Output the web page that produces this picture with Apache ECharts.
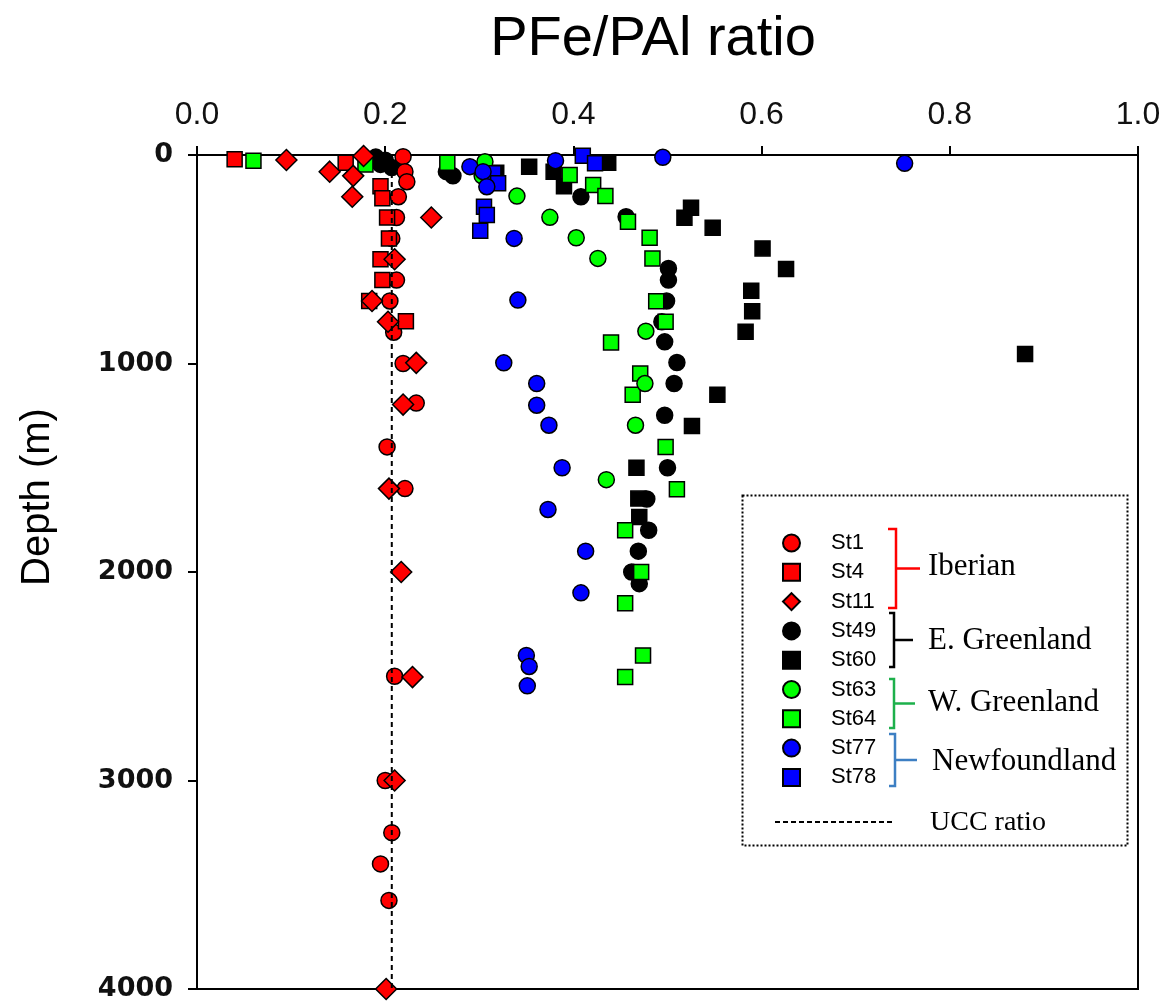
<!DOCTYPE html>
<html>
<head>
<meta charset="utf-8">
<script src="https://cdn.jsdelivr.net/npm/echarts@6/dist/echarts.min.js"></script>
<style>html,body{margin:0;padding:0;background:#fff}#c{width:1174px;height:1007px}</style>
</head>
<body>
<div id="c"></div>
<script>
// ---- data: [PFe/PAl ratio, depth (m)] ----
const st1 = [[0.219,8],[0.221,80],[0.223,128],[0.214,200],[0.212,300],[0.207,400],[0.212,600],[0.205,700],[0.209,850],[0.219,1000],[0.233,1190],[0.202,1400],[0.221,1600],[0.210,2500],[0.200,3000],[0.207,3250],[0.195,3400],[0.204,3575]];
const st4 = [[0.040,20],[0.158,37],[0.195,150],[0.197,208],[0.202,300],[0.204,400],[0.195,500],[0.197,600],[0.183,700],[0.222,797]];
const st11 = [[0.095,24],[0.177,5],[0.141,80],[0.166,100],[0.165,200],[0.249,300],[0.210,500],[0.186,700],[0.203,800],[0.233,997],[0.219,1197],[0.204,1600],[0.217,2000],[0.229,2504],[0.210,3000],[0.201,4000]];
const st49 = [[0.190,10],[0.200,25],[0.195,45],[0.207,60],[0.265,80],[0.272,100],[0.408,200],[0.456,296],[0.501,544],[0.501,600],[0.499,700],[0.494,800],[0.497,896],[0.510,995],[0.507,1096],[0.497,1248],[0.500,1500],[0.478,1650],[0.480,1800],[0.469,1900],[0.462,2000],[0.470,2056]];
const st60 = [[0.318,85],[0.353,56],[0.379,80],[0.437,37],[0.390,150],[0.525,253],[0.518,301],[0.548,349],[0.601,448],[0.626,547],[0.589,651],[0.590,749],[0.583,848],[0.880,955],[0.553,1150],[0.526,1300],[0.467,1500],[0.469,1648],[0.470,1736]];
const st63 = [[0.306,32],[0.303,100],[0.340,197],[0.375,299],[0.403,397],[0.426,496],[0.477,845],[0.476,1096],[0.466,1296],[0.435,1557]];
const st64 = [[0.060,27],[0.179,45],[0.266,37],[0.396,96],[0.421,144],[0.434,197],[0.458,320],[0.481,397],[0.484,496],[0.488,701],[0.498,800],[0.440,899],[0.471,1048],[0.463,1150],[0.498,1400],[0.510,1603],[0.455,1800],[0.472,2000],[0.455,2150],[0.474,2400],[0.455,2504]];
const st77 = [[0.290,56],[0.304,80],[0.308,152],[0.381,27],[0.495,11],[0.752,40],[0.337,400],[0.341,696],[0.326,997],[0.361,1096],[0.361,1200],[0.374,1296],[0.388,1500],[0.373,1700],[0.413,1900],[0.408,2100],[0.350,2400],[0.353,2453],[0.351,2546]];
const st78 = [[0.315,88],[0.320,136],[0.410,3],[0.423,40],[0.305,248],[0.308,288],[0.301,363]];
const uccRatio = 0.207;
const uccDepths = [0, 4000];
const xTicks = [0, 0.2, 0.4, 0.6, 0.8, 1.0];
const yTicks = [0, 1000, 2000, 3000, 4000];

const chart = echarts.init(document.getElementById('c'), null, {renderer: 'canvas'});

function sc(name, data, symbol, size, color) {
  return {
    name: name, type: 'scatter', data: data, symbol: symbol, symbolSize: size,
    itemStyle: {color: color, borderColor: '#000', borderWidth: 1.5, opacity: 1},
    emphasis: {disabled: true}, silent: true
  };
}

const sans = 'Liberation Sans';

function bracket(x, y1, y2, xm, hookX, color) {
  const ym = (y1 + y2) / 2;
  return [
    {type: 'polyline', shape: {points: [[hookX, y1], [x, y1], [x, y2], [hookX, y2]]}, style: {stroke: color, lineWidth: 2.5, fill: null}},
    {type: 'line', shape: {x1: x, y1: ym, x2: xm, y2: ym}, style: {stroke: color, lineWidth: 2.5}}
  ];
}

const option = {
  animation: false,
  backgroundColor: '#fff',
  grid: {left: 197, top: 155, right: 36, bottom: 18, show: true, borderColor: '#000', borderWidth: 2, backgroundColor: 'transparent'},
  xAxis: {
    type: 'value', position: 'top', min: xTicks[0], max: xTicks[xTicks.length - 1], interval: 0.2,
    axisLine: {show: true, lineStyle: {color: '#000', width: 2}},
    axisTick: {show: true, inside: false, length: 9, lineStyle: {color: '#000', width: 2}},
    axisLabel: {margin: 24, fontFamily: sans, fontSize: 32, color: '#111', formatter: v => v.toFixed(1)},
    splitLine: {show: false}
  },
  yAxis: {
    type: 'value', inverse: true, min: yTicks[0], max: yTicks[yTicks.length - 1], interval: 1000,
    axisLine: {show: true, lineStyle: {color: '#000', width: 2}},
    axisTick: {show: true, inside: false, length: 9, lineStyle: {color: '#000', width: 2}},
    axisLabel: {margin: 24, fontFamily: 'DejaVu Sans', fontWeight: 'bold', fontSize: 27, color: '#111', formatter: v => String(v)},
    splitLine: {show: false}
  },
  legend: {
    orient: 'vertical', left: 777, top: 527, itemWidth: 17, itemHeight: 17, itemGap: 7.3,
    selectedMode: false,
    textStyle: {fontFamily: sans, fontSize: 22, color: '#000', padding: [0, 0, 0, 26]},
    data: ['St1', 'St4', 'St11', 'St49', 'St60', 'St63', 'St64', 'St77', 'St78']
  },
  series: [
    sc('St60', st60, 'rect', 15, '#000000'),
    sc('St49', st49, 'circle', 16, '#000000'),
    sc('St64', st64, 'rect', 15, '#00ff00'),
    sc('St63', st63, 'circle', 16, '#00ff00'),
    sc('St78', st78, 'rect', 15, '#0000ff'),
    sc('St77', st77, 'circle', 16, '#0000ff'),
    sc('St1', st1, 'circle', 16, '#ff0000'),
    sc('St4', st4, 'rect', 15, '#ff0000'),
    sc('St11', st11, 'diamond', 21, '#ff0000'),
    {
      name: 'UCC ratio', type: 'line', data: uccDepths.map(d => [uccRatio, d]),
      symbol: 'none', silent: true, z: 5,
      lineStyle: {color: '#000', width: 2, type: [5, 4]}
    }
  ],
  graphic: [
    {type: 'text', style: {text: 'PFe/PAl ratio', x: 653, y: 40, align: 'center', verticalAlign: 'middle', font: '56px "Liberation Sans"', fill: '#000'}},
    {type: 'text', x: 38, y: 497, rotation: Math.PI / 2, style: {text: 'Depth (m)', x: 0, y: 0, align: 'center', verticalAlign: 'middle', font: '40px "Liberation Sans"', fill: '#000'}},
    {type: 'rect', shape: {x: 742.5, y: 495.5, width: 385, height: 350}, style: {fill: null, stroke: '#000', lineWidth: 2, lineDash: [2, 2]}},
    ...bracket(896, 529, 608, 920, 888, '#ff0000'),
    ...bracket(894, 613, 667, 913, 889, '#000000'),
    ...bracket(894, 679, 728, 915, 889, '#1db04b'),
    ...bracket(895, 734, 786, 917, 889, '#3d7fc3'),
    {type: 'text', style: {text: 'Iberian', x: 928, y: 567, verticalAlign: 'middle', font: '31px "Liberation Serif"', fill: '#000'}},
    {type: 'text', style: {text: 'E. Greenland', x: 928, y: 641, verticalAlign: 'middle', font: '31px "Liberation Serif"', fill: '#000'}},
    {type: 'text', style: {text: 'W. Greenland', x: 928, y: 703, verticalAlign: 'middle', font: '31px "Liberation Serif"', fill: '#000'}},
    {type: 'text', style: {text: 'Newfoundland', x: 932, y: 762, verticalAlign: 'middle', font: '31px "Liberation Serif"', fill: '#000'}},
    {type: 'line', shape: {x1: 775, y1: 822, x2: 892, y2: 822}, style: {stroke: '#000', lineWidth: 2, lineDash: [5, 3]}},
    {type: 'text', style: {text: 'UCC ratio', x: 930, y: 823, verticalAlign: 'middle', font: '28px "Liberation Serif"', fill: '#000'}}
  ]
};
chart.setOption(option);
</script>
</body>
</html>
